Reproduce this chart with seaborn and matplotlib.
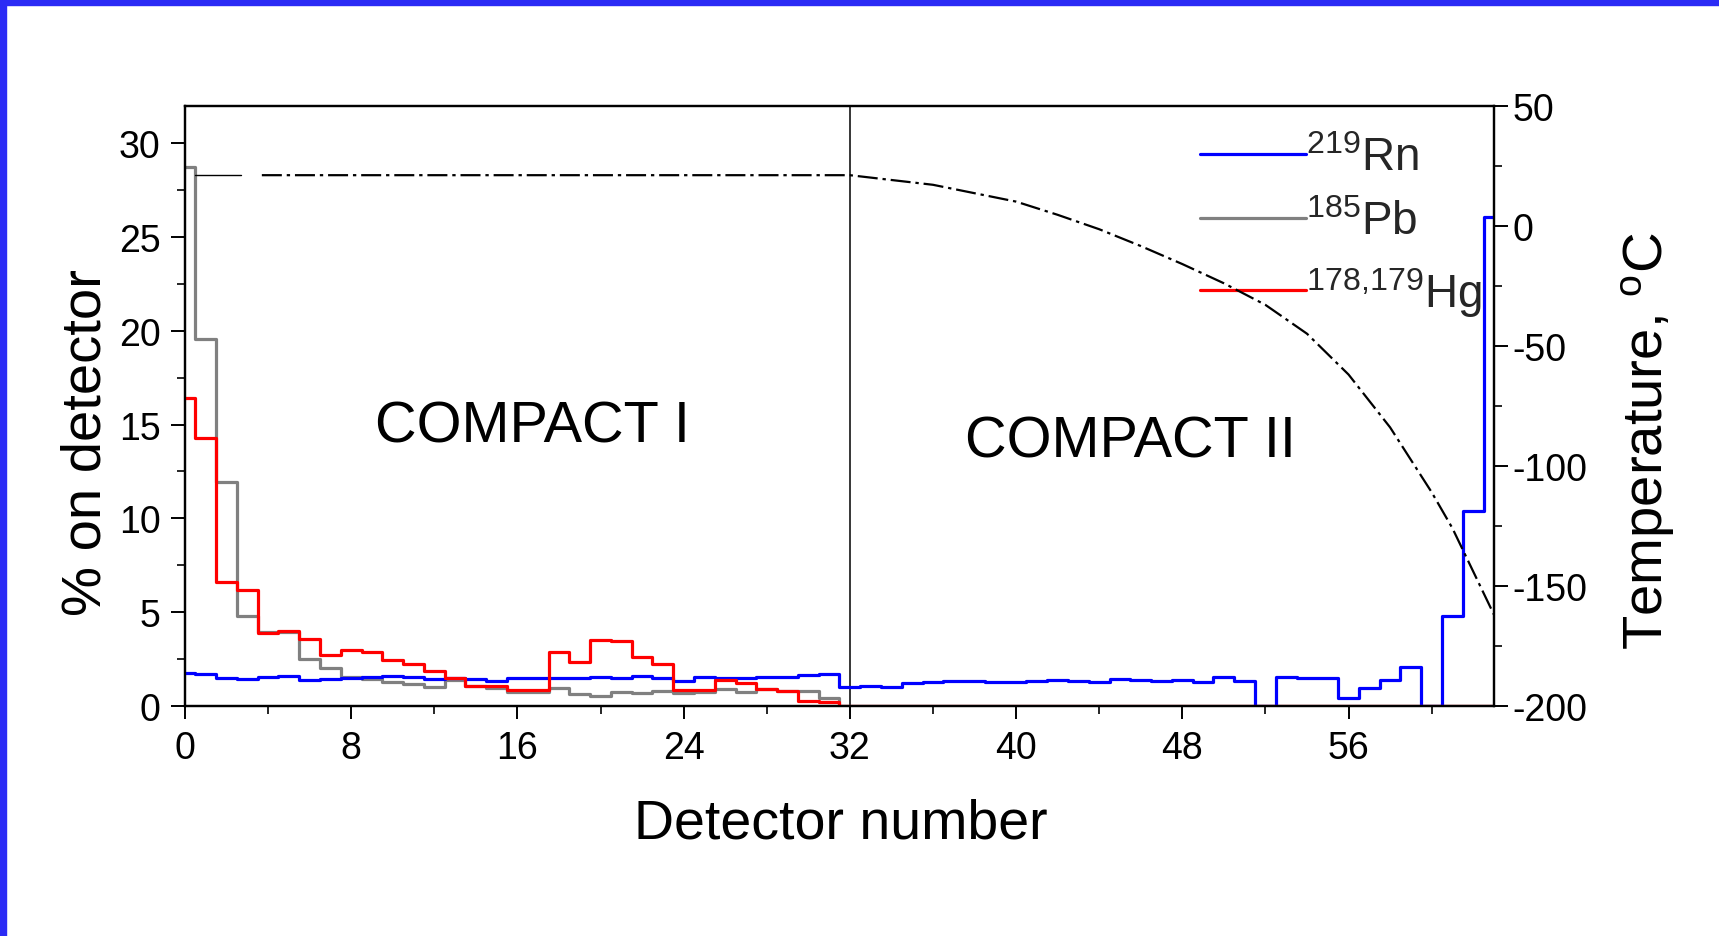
import matplotlib
matplotlib.use('Agg')
import matplotlib.pyplot as plt
import seaborn as sns
import pandas as pd
from matplotlib.patches import Rectangle

# ---------------- data ----------------
detectors = list(range(64))

rn219 = [1.75, 1.69, 1.48, 1.46, 1.52, 1.62, 1.41, 1.46, 1.48, 1.52,
         1.58, 1.52, 1.46, 1.51, 1.42, 1.33, 1.48, 1.51, 1.48, 1.48,
         1.57, 1.51, 1.60, 1.51, 1.33, 1.55, 1.49, 1.48, 1.53, 1.57,
         1.67, 1.71, 1.03, 1.08, 1.03, 1.21, 1.26, 1.35, 1.35, 1.26,
         1.26, 1.31, 1.39, 1.31, 1.26, 1.42, 1.39, 1.31, 1.39, 1.26,
         1.53, 1.31, 0.00, 1.52, 1.48, 1.48, 0.42, 0.95, 1.37, 2.07,
         0.00, 4.81, 10.40, 26.05]

pb185 = [28.75, 19.58, 11.92, 4.81, 3.95, 3.95, 2.49, 2.00, 1.52, 1.46,
         1.29, 1.16, 0.99, 1.40, 1.07, 0.95, 0.72, 0.75, 0.95, 0.62,
         0.54, 0.74, 0.70, 0.80, 0.70, 0.75, 0.91, 0.76, 0.88, 0.82,
         0.82, 0.45] + [0.0] * 32

hg178 = [16.41, 14.30, 6.60, 6.18, 3.90, 4.01, 3.59, 2.74, 3.00, 2.89,
         2.47, 2.26, 1.86, 1.51, 1.07, 1.07, 0.84, 0.84, 2.88, 2.35,
         3.50, 3.47, 2.63, 2.26, 0.84, 0.84, 1.40, 1.21, 0.91, 0.82,
         0.25, 0.20] + [0.0] * 32

temp_seg_x = [0.5, 2.7]
temp_seg_c = [21, 21]
temp_x = [3.7, 8, 16, 24, 32, 34, 36, 38, 40, 42, 44, 46, 48, 50, 52,
          54, 56, 58, 60, 61, 62, 63]
temp_c = [21, 21, 21, 21, 21, 19, 17, 13.5, 10, 4.5, -1.5, -8.5, -16,
          -24, -33, -45, -62, -84, -111, -126, -144, -162]

series_labels = [r'$^{\mathrm{219}}$Rn', r'$^{\mathrm{185}}$Pb', r'$^{\mathrm{178,\!179}}$Hg']
x_ticks = [0, 8, 16, 24, 32, 40, 48, 56]
y_ticks = [0, 5, 10, 15, 20, 25, 30]
t_ticks = [-200, -150, -100, -50, 0, 50]

# ---------------- style ----------------
sns.set_theme(style='ticks')
plt.rcParams['font.family'] = ['Liberation Sans', 'DejaVu Sans']
plt.rcParams['mathtext.fontset'] = 'custom'
plt.rcParams['mathtext.rm'] = 'Liberation Sans'
plt.rcParams['mathtext.it'] = 'Liberation Sans:italic'
plt.rcParams['mathtext.bf'] = 'Liberation Sans:bold'
plt.rcParams['axes.unicode_minus'] = False

fig = plt.figure(figsize=(17.19, 9.37), dpi=100)
fig.patch.set_facecolor('white')
ax = fig.add_axes([0.1076, 0.2455, 0.7615, 0.6408])

df = pd.DataFrame({'det': detectors, 'Rn': rn219, 'Pb': pb185, 'Hg': hg178})

lw = 2.3
sns.lineplot(data=df, x='det', y='Rn', ax=ax, color='#0000ff', lw=lw,
             drawstyle='steps-mid', errorbar=None, zorder=3)
sns.lineplot(data=df, x='det', y='Pb', ax=ax, color='#808080', lw=lw,
             drawstyle='steps-mid', errorbar=None, zorder=2)
sns.lineplot(data=df, x='det', y='Hg', ax=ax, color='#ff0000', lw=lw,
             drawstyle='steps-mid', errorbar=None, zorder=4)

ax.axvline(32, color='black', lw=1.1, zorder=1)

ax.set_xlim(0, 63)
ax.set_ylim(0, 32)
ax.set_xticks(x_ticks)
ax.set_xticks([4, 12, 20, 28, 36, 44, 52, 60], minor=True)
ax.set_yticks(y_ticks)
ax.set_yticks([2.5, 7.5, 12.5, 17.5, 22.5, 27.5], minor=True)

for sp in ax.spines.values():
    sp.set_linewidth(1.6)
    sp.set_color('black')

ax.tick_params(axis='x', which='major', direction='out', length=9, width=1.4,
               labelsize=27, pad=8, colors='black')
ax.tick_params(axis='x', which='minor', direction='out', length=6, width=1.4)
ax.tick_params(axis='y', which='major', direction='out', length=10, width=1.4,
               labelsize=27, pad=7.5, colors='black')
ax.tick_params(axis='y', which='minor', direction='out', length=6, width=1.4)

ax.set_xlabel('Detector number', fontsize=40, color='black')
ax.set_ylabel('% on detector', fontsize=40.5, color='black')
ax.xaxis.set_label_coords(0.501, -0.1517)
ax.yaxis.set_label_coords(-0.0552, 0.44)

ax.text(16.7, 14.9, 'COMPACT I', ha='center', va='center', fontsize=41.5, color='black')
ax.text(45.5, 14.1, 'COMPACT II', ha='center', va='center', fontsize=41.5, color='black')

lines = ax.get_lines()[:3]
leg = ax.legend(lines, series_labels, loc='upper right', bbox_to_anchor=(0.991, 0.9488),
                frameon=False, fontsize=33, handlelength=2.3, handletextpad=0.0,
                labelspacing=0.44, borderaxespad=0.0, borderpad=0.0)

# ---------------- temperature axis ----------------
ax2 = ax.twinx()
sns.lineplot(x=temp_seg_x, y=temp_seg_c, ax=ax2, color='black', lw=1.0, errorbar=None)
sns.lineplot(x=temp_x, y=temp_c, ax=ax2, color='black', lw=1.6,
             linestyle=(0, (9, 2.2, 1.5, 2.2)), errorbar=None)
ax2.set_ylim(-200, 50)
ax2.set_yticks(t_ticks)
ax2.set_yticks([-175, -125, -75, -25, 25], minor=True)
ax2.tick_params(axis='y', which='major', direction='out', length=10, width=1.4,
                labelsize=27, pad=3.5, colors='black')
ax2.tick_params(axis='y', which='minor', direction='out', length=6, width=1.4)
for sp in ax2.spines.values():
    sp.set_linewidth(1.6)
    sp.set_color('black')
ax2.set_ylabel(r'Temperature, $^{\mathrm{o}}$C', fontsize=40.5, color='black')
ax2.yaxis.set_label_coords(1.096, 0.443)

# ---------------- blue frame ----------------
fig.patches.append(Rectangle((0, 1 - 6 / 937), 1, 6 / 937, transform=fig.transFigure,
                             color='#2b2bf5', zorder=10))
fig.patches.append(Rectangle((0, 0), 6 / 1719, 1, transform=fig.transFigure,
                             color='#2b2bf5', zorder=10))

fig.savefig('out.png', dpi=100, facecolor='white')
